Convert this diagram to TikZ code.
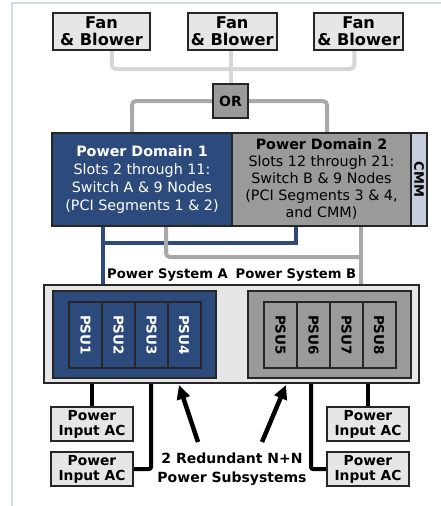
\documentclass[tikz,border=0pt]{standalone}
\usepackage{fontspec}
\setmainfont{DejaVu Sans}
\usetikzlibrary{arrows.meta,calc}
\pgfdeclarelayer{background}
\pgfdeclarelayer{bottom}
\pgfsetlayers{bottom,background,main}
\definecolor{dblue}{HTML}{2C4A7C}
\definecolor{mgray}{HTML}{9A9A9A}
\definecolor{lfill}{HTML}{E6E6E6}
\definecolor{lline}{HTML}{D6D6D6}
\definecolor{mline}{HTML}{A8A8A8}
\definecolor{cmmfill}{HTML}{C6CDDD}
\definecolor{framec}{HTML}{D3DAE6}
\tikzset{
  box/.style={draw=black!85, line width=2pt, inner sep=0pt, align=center},
  fanbox/.style={box, fill=lfill, minimum height=37pt, font=\fontsize{16.2}{17}\selectfont\bfseries},
  inbox/.style={box, fill=lfill, minimum width=82pt, minimum height=34pt, font=\fontsize{13.8}{15}\selectfont\bfseries},
  psucell/.style={box, rotate=-90, minimum width=66pt, minimum height=33pt, font=\fontsize{13.5}{14}\selectfont\bfseries},
  lconn/.style={draw=lline, line width=4pt, rounded corners=4pt},
  mconn/.style={draw=mline, line width=4pt, rounded corners=4pt},
  bconn/.style={draw=dblue, line width=4pt},
  kconn/.style={draw=black, line width=4pt, rounded corners=2pt},
  bigarrow/.style={draw=black, line width=4.5pt, -{Triangle[length=14pt,width=13pt]}},
}
\begin{document}
\begin{tikzpicture}[x=1pt,y=-1pt]
\useasboundingbox (0,0) rectangle (441,506);
\begin{pgfonlayer}{bottom}
\fill[white] (0,0) rectangle (441,506);
\draw[framec, line width=1.5pt] (12,506) -- (12,3) -- (441,3);
\end{pgfonlayer}

% fans and OR
\node[fanbox, minimum width=97pt] (fan1) at (101.5,31.5) {Fan\\\& Blower};
\node[fanbox, minimum width=89pt] (fan2) at (232.2,31.5) {Fan\\\& Blower};
\node[fanbox, minimum width=89pt] (fan3) at (358.7,31.5) {Fan\\\& Blower};
\node[box, fill=mgray, minimum width=35pt, minimum height=34pt, font=\fontsize{14}{14}\selectfont\bfseries] (or) at (230.5,101) {OR};

% domains
\node[box, fill=dblue, text=white, minimum width=180pt, minimum height=93pt, font=\fontsize{14.3}{18}\selectfont] (pd1) at (142,179.5)
  {\textbf{Power Domain 1}\\Slots 2 through 11:\\Switch A \& 9 Nodes\\(PCI Segments 1 \& 2)};
\node[box, fill=mgray, minimum width=179pt, minimum height=93pt, font=\fontsize{14.3}{17}\selectfont] (pd2) at (321.5,179.5)
  {\textbf{Power Domain 2}\\Slots 12 through 21:\\Switch B \& 9 Nodes\\(PCI Segments 3 \& 4,\\and CMM)};
\node[box, fill=cmmfill, rotate=-90, minimum width=93pt, minimum height=16pt, font=\fontsize{13}{14}\selectfont\bfseries] (cmm) at (419,179.5) {CMM};

% power system outer
\node[box, fill=lfill, minimum width=375pt, minimum height=98pt] (psys) at (231.5,334) {};
\node[box, fill=dblue, minimum width=163pt, minimum height=87pt] (psa) at (134.5,334.5) {};
\node[box, fill=mgray, minimum width=163pt, minimum height=87pt] (psb) at (329.5,334.5) {};
\node[psucell, fill=dblue, text=white] (psu1) at (85.5,335) {PSU1};
\node[psucell, fill=dblue, text=white] (psu2) at (118.5,335) {PSU2};
\node[psucell, fill=dblue, text=white] (psu3) at (151.5,335) {PSU3};
\node[psucell, fill=dblue, text=white] (psu4) at (184,335) {PSU4};
\node[psucell, fill=mgray] (psu5) at (280.5,335) {PSU5};
\node[psucell, fill=mgray] (psu6) at (313.5,335) {PSU6};
\node[psucell, fill=mgray] (psu7) at (346.5,335) {PSU7};
\node[psucell, fill=mgray] (psu8) at (379,335) {PSU8};

% inputs
\node[inbox] (in1) at (92,424) {Power\\Input AC};
\node[inbox] (in2) at (92,469) {Power\\Input AC};
\node[inbox] (in3) at (368,424) {Power\\Input AC};
\node[inbox] (in4) at (368,469) {Power\\Input AC};

% labels
\node[font=\fontsize{13.2}{14}\selectfont\bfseries, inner sep=1pt] (lpa) at (167.5,275) {Power System A};
\node[font=\fontsize{13.2}{14}\selectfont\bfseries, inner sep=1pt] (lpb) at (296,275) {Power System B};
\node[font=\fontsize{14}{19}\selectfont\bfseries, align=center, inner sep=0pt] (red) at (232,469.5) {2 Redundant N+N\\Power Subsystems};

% coordinates for connectors
\coordinate (bA) at ([xshift=52pt]pd1.south west);
\coordinate (bB) at ([xshift=65pt]pd2.south west);
\coordinate (gA) at ([xshift=115pt]pd1.south west);
\coordinate (gB) at ([xshift=130pt]pd2.south west);
\coordinate (f1) at ([xshift=10.3pt]fan1.south);
\coordinate (f3) at ([xshift=-4.4pt]fan3.south);
\coordinate (oL) at ([xshift=81pt]pd1.north west);
\coordinate (oR) at ([xshift=96pt]pd2.north west);
\coordinate (k2) at ([xshift=108pt]psys.south west);
\coordinate (k4) at ([xshift=-109pt]psys.south east);
\coordinate (t1) at ([xshift=136pt,yshift=-1pt]psys.south west);
\coordinate (t2) at ([xshift=-134pt,yshift=-1pt]psys.south east);
\coordinate (s1) at (198,442);
\coordinate (s2) at (262,442);

\begin{pgfonlayer}{background}
  % fans to OR
  \draw[lconn] (f1) -- ++(0,18) -| (f3);
  \draw[lconn] (or.north |- fan2.south) -- (or.north);
  % OR to domains
  \draw[mconn] (or.west) -| (oL);
  \draw[mconn] (or.east) -| (oR);
  % domains to power systems
  \draw[bconn] (bA) -- (bA |- psys.north);
  \draw[bconn] ([yshift=-16pt]bA) -| (bB);
  \draw[mconn] (gA) |- ([yshift=-30pt]gB);
  \draw[mconn] (gB) -- (gB |- psys.north);
  % power inputs
  \draw[kconn] (in1.north |- psys.south) -- (in1.north);
  \draw[kconn] (in3.north |- psys.south) -- (in3.north);
  \draw[kconn] (in2.east) -| (k2);
  \draw[kconn] (in4.west) -| (k4);
\end{pgfonlayer}
\draw[bigarrow] (s1) -- (t1);
\draw[bigarrow] (s2) -- (t2);
\end{tikzpicture}
\end{document}
